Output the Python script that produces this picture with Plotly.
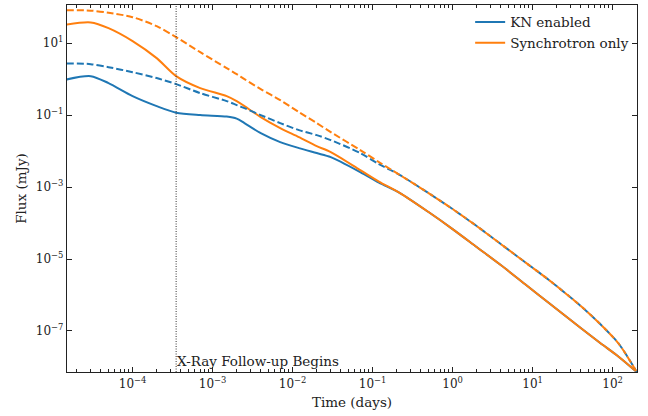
import math
import plotly.graph_objects as go

# Observer time (days)
time_days = [1.5e-5, 3e-5, 5e-5, 1e-4, 2e-4, 3.5e-4, 7e-4, 1.5e-3, 2e-3, 2.5e-3,
             4e-3, 7e-3, 1.2e-2, 2e-2, 3e-2, 7e-2, 0.12, 0.22, 0.5, 1.0, 2.0,
             4.0, 8.0, 16.0, 40.0, 70.0, 120.0, 200.0]

# Flux density (mJy), solid curves
kn_solid = [0.98, 1.21, 0.774, 0.337, 0.178, 0.117, 0.1, 0.0908, 0.08, 0.06,
            0.0316, 0.0178, 0.0121, 0.0088, 0.0068, 0.00261, 0.00133, 6.8e-4,
            2.02e-4, 6.8e-5, 2.15e-5, 6.8e-6, 2.02e-6, 6.0e-7, 1.21e-7,
            4.64e-8, 1.9e-8, 7.27e-9]
sync_solid = [33.1, 37.6, 26.1, 11.4, 3.83, 1.21, 0.562, 0.337, 0.245, 0.178,
              0.088, 0.0435, 0.0245, 0.01377, 0.00938, 0.00297, 0.00142, 6.8e-4,
              2.02e-4, 6.8e-5, 2.15e-5, 6.8e-6, 2.02e-6, 6.0e-7, 1.21e-7,
              4.64e-8, 1.9e-8, 7.27e-9]

# Flux density (mJy), dashed curves
kn_dashed = [2.73, 2.61, 2.15, 1.56, 1.07, 0.727, 0.409, 0.245, 0.19, 0.156,
             0.1, 0.06, 0.0383, 0.0278, 0.0202, 0.0088, 0.00435, 0.00215,
             6.8e-4, 2.45e-4, 8.25e-5, 2.61e-5, 8.25e-6, 2.61e-6, 4.95e-7,
             1.56e-7, 4.35e-8, 7.27e-9]
sync_dashed = [82.5, 80.0, 70.3, 52.7, 29.7, 14.7, 5.6, 2.02, 1.38, 1.0,
               0.527, 0.261, 0.121, 0.06, 0.0337, 0.01066, 0.00494, 0.00215,
               6.8e-4, 2.45e-4, 8.25e-5, 2.61e-5, 8.25e-6, 2.61e-6, 4.95e-7,
               1.56e-7, 4.35e-8, 7.27e-9]

xray_start = 3.5e-4

x_tickvals = [1e-4, 1e-3, 1e-2, 1e-1, 1e0, 1e1, 1e2]
x_ticktext = ["10<sup>\u22124</sup>", "10<sup>\u22123</sup>", "10<sup>\u22122</sup>",
              "10<sup>\u22121</sup>", "10<sup>0</sup>", "10<sup>1</sup>", "10<sup>2</sup>"]
y_tickvals = [1e1, 1e-1, 1e-3, 1e-5, 1e-7]
y_ticktext = ["10<sup>1</sup>", "10<sup>\u22121</sup>", "10<sup>\u22123</sup>",
              "10<sup>\u22125</sup>", "10<sup>\u22127</sup>"]

BLUE = "#1f77b4"
ORANGE = "#ff7f0e"
INK = "#222222"
FONT = "DejaVu Serif"

def curve(y, color, name=None, dashed=False):
    return go.Scatter(
        x=time_days, y=y, mode="lines", name=name, showlegend=name is not None,
        line=dict(color=color, width=2, shape="spline", smoothing=0.8,
                  dash="7px,3px" if dashed else "solid"))

fig = go.Figure()
fig.add_trace(curve(kn_solid, BLUE, "KN enabled"))
fig.add_trace(curve(sync_solid, ORANGE, "Synchrotron only"))
fig.add_trace(curve(kn_dashed, BLUE, dashed=True))
fig.add_trace(curve(sync_dashed, ORANGE, dashed=True))

fig.add_shape(type="line", xref="x", yref="paper", x0=xray_start, x1=xray_start,
              y0=0, y1=1, line=dict(color="#333333", width=1, dash="1px,1.5px"))
fig.add_annotation(x=math.log10(xray_start), xref="x", y=0, yref="paper",
                   text="X-Ray Follow-up Begins", showarrow=False,
                   xanchor="left", yanchor="bottom", xshift=-1, yshift=1,
                   font=dict(family=FONT, size=13.5, color=INK))

minor_x = [m * 10.0 ** e for e in range(-5, 3) for m in range(2, 10)]

axis_common = dict(type="log", showgrid=False, zeroline=False, showline=True,
                   linecolor=INK, linewidth=1.3, ticks="inside", mirror="allticks",
                   tickcolor=INK, tickwidth=1, ticklen=5,
                   tickfont=dict(family=FONT, size=12, color=INK))

fig.update_xaxes(**axis_common, range=[-4.82, 2.305], tickmode="array",
                 tickvals=x_tickvals, ticktext=x_ticktext,
                 minor=dict(tickmode="array", tickvals=minor_x, ticks="inside", ticklen=3,
                            tickcolor=INK, tickwidth=1),
                 title=dict(text="Time (days)", font=dict(family=FONT, size=13.5, color=INK),
                            standoff=8))
fig.update_yaxes(**axis_common, range=[-8.14, 2.06], tickmode="array",
                 tickvals=y_tickvals, ticktext=y_ticktext,
                 title=dict(text="Flux (mJy)", font=dict(family=FONT, size=13.5, color=INK),
                            standoff=6))

fig.update_layout(
    width=648, height=416,
    margin=dict(l=67, r=11, t=5, b=44),
    paper_bgcolor="white", plot_bgcolor="white",
    font=dict(family=FONT, size=13, color=INK),
    legend=dict(x=0.995, y=0.995, xanchor="right", yanchor="top",
                bgcolor="rgba(0,0,0,0)", borderwidth=0,
                font=dict(family=FONT, size=13.5, color=INK),
                tracegroupgap=0, itemwidth=30),
)

fig.write_html("out.html")
